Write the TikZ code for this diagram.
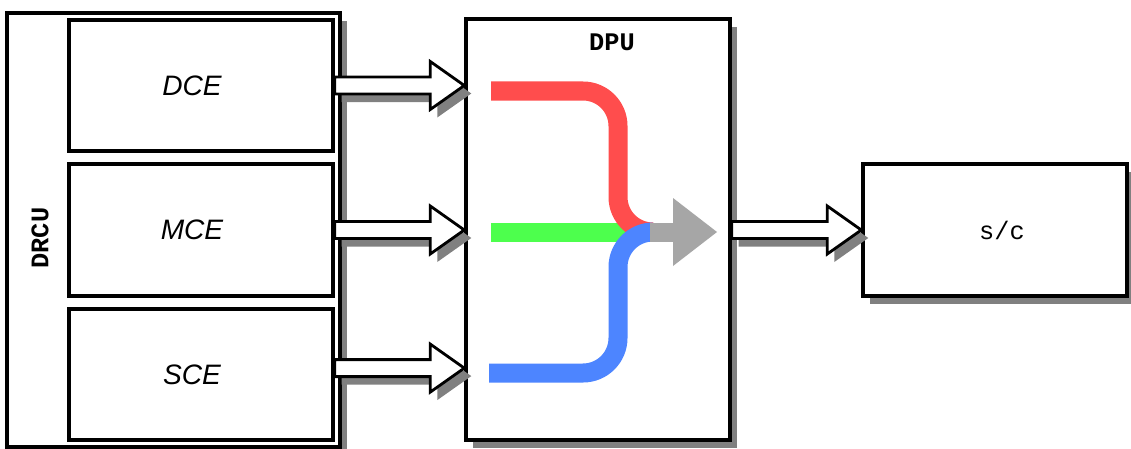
\documentclass[tikz,border=0pt]{standalone}
\usepackage{fontspec}
\setmainfont{Liberation Sans}
\setmonofont{Liberation Mono}
\usetikzlibrary{calc,shadows}
\definecolor{shadowgray}{HTML}{808080}
\definecolor{flowred}{HTML}{FF4D4D}
\definecolor{flowgreen}{HTML}{4DFF4D}
\definecolor{flowblue}{HTML}{4D85FF}
\definecolor{flowgray}{HTML}{A6A6A6}
\def\blockarrow(#1)(#2){%
  \begin{scope}[transform canvas={shift={(7,8)}}]
    \fill[shadowgray] ($(#1)+(0,-8.5)$) -- ($(#2)+(-34,-8.5)$) -- ($(#2)+(-34,-24)$) -- (#2) -- ($(#2)+(-34,24)$) -- ($(#2)+(-34,8.5)$) -- ($(#1)+(0,8.5)$) -- cycle;
  \end{scope}
  \filldraw[fill=white,line width=2pt] ($(#1)+(0,-8.5)$) -- ($(#2)+(-34,-8.5)$) -- ($(#2)+(-34,-24)$) -- (#2) -- ($(#2)+(-34,24)$) -- ($(#2)+(-34,8.5)$) -- ($(#1)+(0,8.5)$) -- cycle;}

\begin{document}
\begin{tikzpicture}[x=0.025cm,y=-0.025cm,
    box/.style={draw,line width=2.4pt,fill=white,inner sep=0pt,font=\fontsize{20}{24}\selectfont\itshape},
    shadowed/.style={drop shadow={shadow xshift=0.175cm,shadow yshift=-0.2cm,fill=shadowgray,opacity=1}},
    tag/.style={font=\fontsize{18}{22}\selectfont\ttfamily\bfseries},
    flow/.style={line width=0.475cm,rounded corners=0.875cm}]
		%%%%% START %%%%%
		
		\useasboundingbox (0,0) rectangle (1131,448);
		
		\node[box,shadowed,minimum width=8.325cm,minimum height=10.85cm] (drcu) at (173.5,230) {};
		\node[tag,rotate=90] (drcutag) at (40,238) {DRCU};
		
		\node[box,minimum width=6.6cm,minimum height=3.275cm] (dce) at (201,85.5) {DCE\hspace*{0.45cm}};
		\node[box,minimum width=6.6cm,minimum height=3.3cm] (mce) at (201,230) {MCE\hspace*{0.45cm}};
		\node[box,minimum width=6.6cm,minimum height=3.275cm] (sce) at (201,374.5) {SCE\hspace*{0.45cm}};
		
		\node[box,shadowed,minimum width=6.6cm,minimum height=10.525cm] (dpu) at (598,229.5) {};
		\node[tag] (dputag) at (612,42) {DPU};
		
		\node[box,shadowed,tag,font=\fontsize{18}{22}\selectfont\ttfamily,minimum width=6.6cm,minimum height=3.3cm] (sc) at (995,230) {\hspace*{0.35cm}s/c};
		
		\coordinate (sceout) at ([yshift=0.16cm]sce.east);
		\blockarrow(dce.east)(dpu.west |- dce.east)
		\blockarrow(mce.east)(dpu.west |- mce.east)
		\blockarrow(sceout)(dpu.west |- sceout)
		\blockarrow(dpu.east |- sc.west)(sc.west)
		
		\draw[flow,flowgreen] (491,232) -- (625,232);
		\draw[flow,flowred] (491,91) -- (618,91) -- (618,232) -- (653,232);
		\draw[flow,flowblue] (653,232) -- (618,232) -- (618,373) -- (489,373);
		\fill[flowgray] (650,222.5) rectangle (674,241.5);
		\fill[flowgray] (673,198) -- (717,232) -- (673,266) -- cycle;
		
		%%%%% END %%%%%
\end{tikzpicture}
\end{document}
